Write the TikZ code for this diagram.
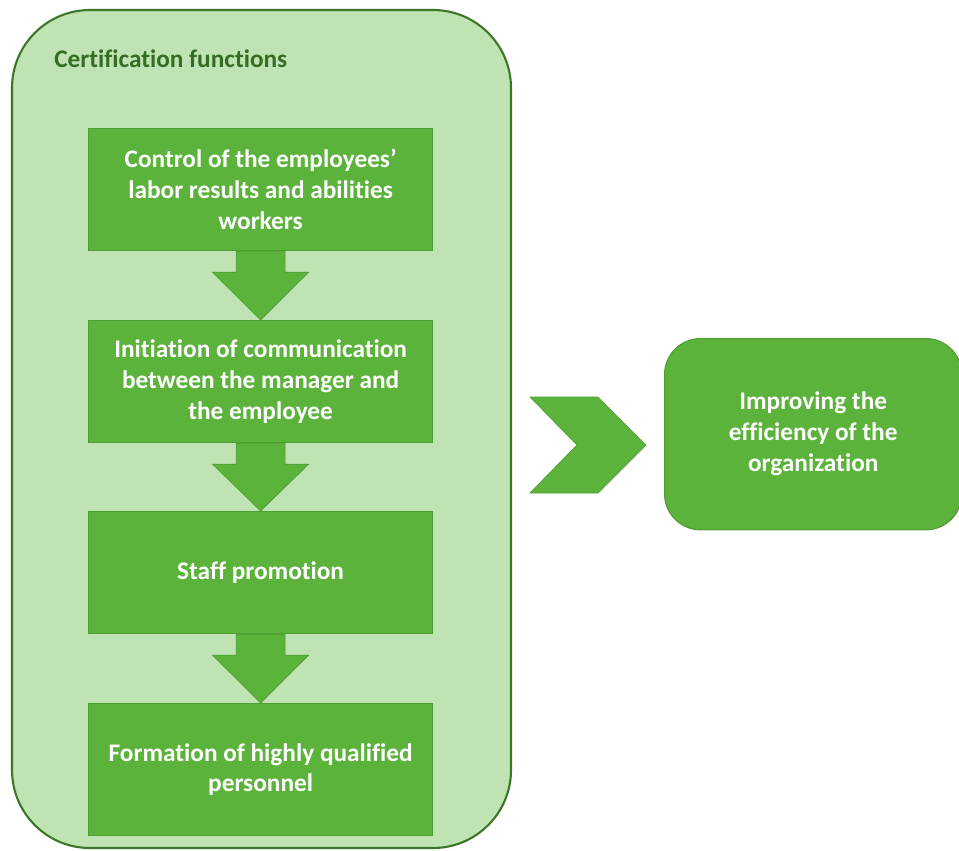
\documentclass[tikz,border=0pt]{standalone}
\usepackage{fontspec}
\setmainfont{Carlito}[Ligatures=NoCommon]
\usetikzlibrary{calc}
\definecolor{panelfill}{HTML}{C0E3B4}
\definecolor{paneldraw}{HTML}{3B7727}
\definecolor{titletext}{HTML}{356E22}
\definecolor{stepfill}{HTML}{5CB33B}
\definecolor{stepdraw}{HTML}{4F9E33}
\tikzset{
  stepbox/.style={draw=stepdraw, fill=stepfill, line width=0.8pt, inner sep=0pt,
    minimum width=8.6cm, minimum height=3.05cm, text=white, align=center,
    font=\fontsize{18}{22}\selectfont\bfseries},
  blockarrow/.style={fill=stepfill, draw=stepdraw, line width=0.5pt}
}
\begin{document}
\begin{tikzpicture}[x=0.025cm, y=-0.025cm]
			\useasboundingbox (0,0) rectangle (959,850);
			\draw[draw=paneldraw, fill=panelfill, line width=1.5pt, rounded corners=1.95cm] (12,10) rectangle (511,848);
			\node[anchor=west, inner sep=0pt, text=titletext, font=\fontsize{18}{22}\selectfont\bfseries] (title) at (54,59) {Certification functions};
			% the four steps
			\node[stepbox, anchor=north west] (control) at (88,128) {Control of the employees'\\labor results and abilities\\workers};
			\node[stepbox, anchor=north west] (talk) at (88,320) {Initiation of communication\\between the manager and\\the employee};
			\node[stepbox, anchor=north west] (promo) at (88,511) {Staff promotion};
			\node[stepbox, anchor=north west, minimum height=3.3cm] (staff) at (88,703) {Formation of highly qualified\\personnel};
			\foreach \a/\b in {control/talk, talk/promo, promo/staff}
				\draw[blockarrow] ($(\a.south)+(-24.5,0)$) -- ($(\a.south)+(-24.5,21)$) -- ($(\a.south)+(-48,21)$)
					-- (\b.north) -- ($(\a.south)+(48,21)$) -- ($(\a.south)+(24.5,21)$) -- ($(\a.south)+(24.5,0)$) -- cycle;
			% chevron
			\draw[blockarrow] (530,397) -- (598,397) -- (646,445) -- (598,493) -- (530,493) -- (577,445) -- cycle;
			\node[stepbox, anchor=north west, rounded corners=0.9cm, minimum width=7.43cm, minimum height=4.78cm] (goal) at (664,338) {Improving the\\efficiency of the\\organization};
\end{tikzpicture}
\end{document}
